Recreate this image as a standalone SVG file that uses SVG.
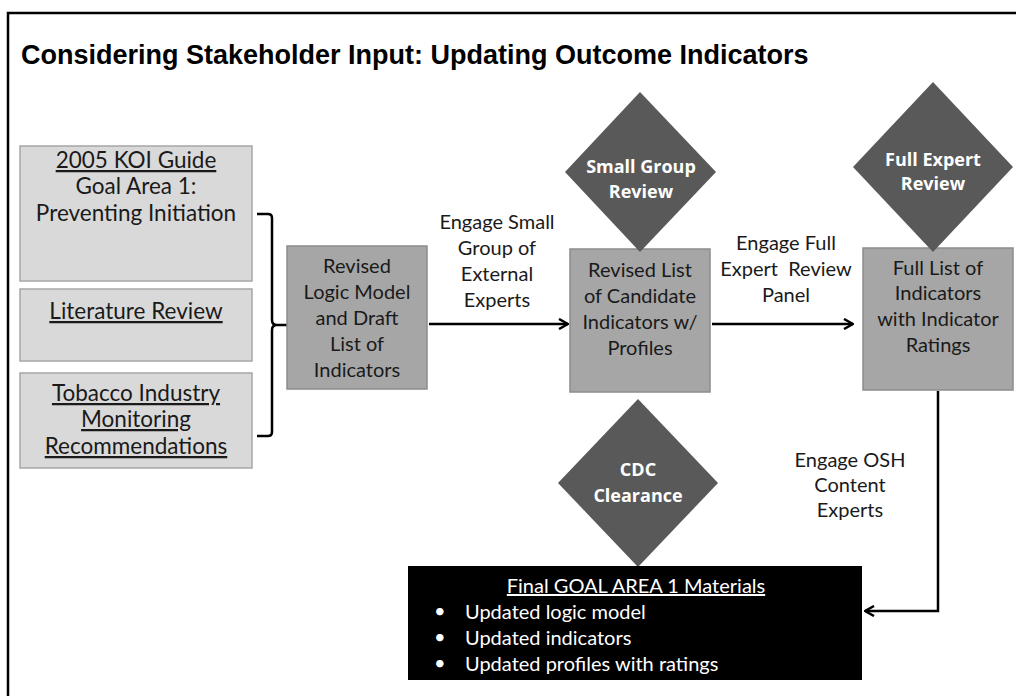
<svg xmlns="http://www.w3.org/2000/svg" width="1016" height="696" viewBox="0 0 1016 696">
<defs>
<style>
.t{font-family:Lato,"Open Sans","Liberation Sans",sans-serif;font-size:20px;fill:#1a1a1a;text-anchor:middle}
.tl{font-family:Lato,"Open Sans","Liberation Sans",sans-serif;font-size:22.5px;fill:#1a1a1a;text-anchor:middle}
.u{text-decoration:underline}
.w{font-family:"Open Sans",Lato,"Liberation Sans",sans-serif;font-weight:bold;font-size:18px;fill:#ffffff;text-anchor:middle}
.wt{font-family:Lato,"Open Sans","Liberation Sans",sans-serif;font-size:20px;fill:#ffffff}
.lt{fill:#d9d9d9;stroke:#a6a6a6;stroke-width:1.5}
.dk{fill:#a6a6a6;stroke:#8c8c8c;stroke-width:1.5}
.dm{fill:#595959}
.ln{fill:none;stroke:#000;stroke-width:2.5}
</style>
<marker id="ah" viewBox="0 0 12 12" refX="11" refY="6" markerWidth="12" markerHeight="12" markerUnits="userSpaceOnUse" orient="auto">
<path d="M2,1 L11,6 L2,11" fill="none" stroke="#000" stroke-width="2.5"/>
</marker>
</defs>
<rect width="1016" height="696" fill="#fff"/>
<path d="M8,696 V13 H1016" fill="none" stroke="#000" stroke-width="2.5"/>
<text x="21" y="64" font-family="'Liberation Sans',Arial,sans-serif" font-weight="bold" font-size="27" fill="#000">Considering Stakeholder Input: Updating Outcome Indicators</text>

<g id="connectors">
<path class="ln" d="M257,214 H268 Q272,214 272,218 V320 Q272,325 277,325 H287 M277,325 Q272,325 272,330 V432 Q272,436 268,436 H257"/>
<line class="ln" x1="429" y1="324" x2="568" y2="324" marker-end="url(#ah)"/>
<line class="ln" x1="712" y1="324" x2="853" y2="324" marker-end="url(#ah)"/>
<path class="ln" d="M938,391 V611 H865" marker-end="url(#ah)"/>
<text class="t" x="497" y="229">Engage Small</text>
<text class="t" x="497" y="255">Group of</text>
<text class="t" x="497" y="281">External</text>
<text class="t" x="497" y="307">Experts</text>
<text class="t" x="786" y="250">Engage Full</text>
<text class="t" x="786" y="276" xml:space="preserve">Expert  Review</text>
<text class="t" x="786" y="302">Panel</text>
<text class="t" x="850" y="467">Engage OSH</text>
<text class="t" x="850" y="492">Content</text>
<text class="t" x="850" y="517">Experts</text>
</g>

<g id="koi-guide">
<rect class="lt" x="20" y="146" width="232" height="135"/>
<text class="tl u" x="136" y="168">2005 KOI Guide</text>
<text class="tl" x="136" y="194">Goal Area 1:</text>
<text class="tl" x="136" y="221">Preventing Initiation</text>
</g>
<g id="literature-review">
<rect class="lt" x="20" y="289" width="232" height="72"/>
<text class="tl u" x="136" y="319">Literature Review</text>
</g>
<g id="tobacco-industry">
<rect class="lt" x="20" y="373" width="232" height="95"/>
<text class="tl u" x="136" y="401">Tobacco Industry</text>
<text class="tl u" x="136" y="427">Monitoring</text>
<text class="tl u" x="136" y="454">Recommendations</text>
</g>
<g id="revised-logic-model">
<rect class="dk" x="287" y="246" width="140" height="143"/>
<text class="t" x="357" y="273">Revised</text>
<text class="t" x="357" y="299">Logic Model</text>
<text class="t" x="357" y="325">and Draft</text>
<text class="t" x="357" y="351">List of</text>
<text class="t" x="357" y="377">Indicators</text>
</g>
<g id="revised-list">
<rect class="dk" x="570" y="249" width="140" height="143"/>
<text class="t" x="640" y="277">Revised List</text>
<text class="t" x="640" y="303">of Candidate</text>
<text class="t" x="640" y="329">Indicators w/</text>
<text class="t" x="640" y="355">Profiles</text>
</g>
<g id="small-group-review">
<polygon class="dm" points="640,92 716,172 640,252 565,172"/>
<text class="w" x="641" y="173">Small Group</text>
<text class="w" x="641" y="198">Review</text>
</g>
<g id="full-list">
<rect class="dk" x="863" y="248" width="150" height="142"/>
<text class="t" x="938" y="275">Full List of</text>
<text class="t" x="938" y="300">Indicators</text>
<text class="t" x="938" y="326">with Indicator</text>
<text class="t" x="938" y="352">Ratings</text>
</g>
<g id="full-expert-review">
<polygon class="dm" points="933,82 1013,167 933,252 853,167"/>
<text class="w" x="933" y="166">Full Expert</text>
<text class="w" x="933" y="190">Review</text>
</g>
<g id="cdc-clearance">
<polygon class="dm" points="638,399 718,483 638,567 558,483"/>
<text class="w" x="638" y="476">CDC</text>
<text class="w" x="638" y="502">Clearance</text>
</g>
<g id="final-materials">
<rect x="408" y="566" width="454" height="114" fill="#000"/>
<text class="wt u" x="636" y="593" text-anchor="middle">Final GOAL AREA 1 Materials</text>
<text class="wt" x="434" y="618" font-size="15">•</text>
<text class="wt" x="465" y="619">Updated logic model</text>
<text class="wt" x="434" y="644" font-size="15">•</text>
<text class="wt" x="465" y="645">Updated indicators</text>
<text class="wt" x="434" y="670" font-size="15">•</text>
<text class="wt" x="465" y="671">Updated profiles with ratings</text>
</g>
</svg>
